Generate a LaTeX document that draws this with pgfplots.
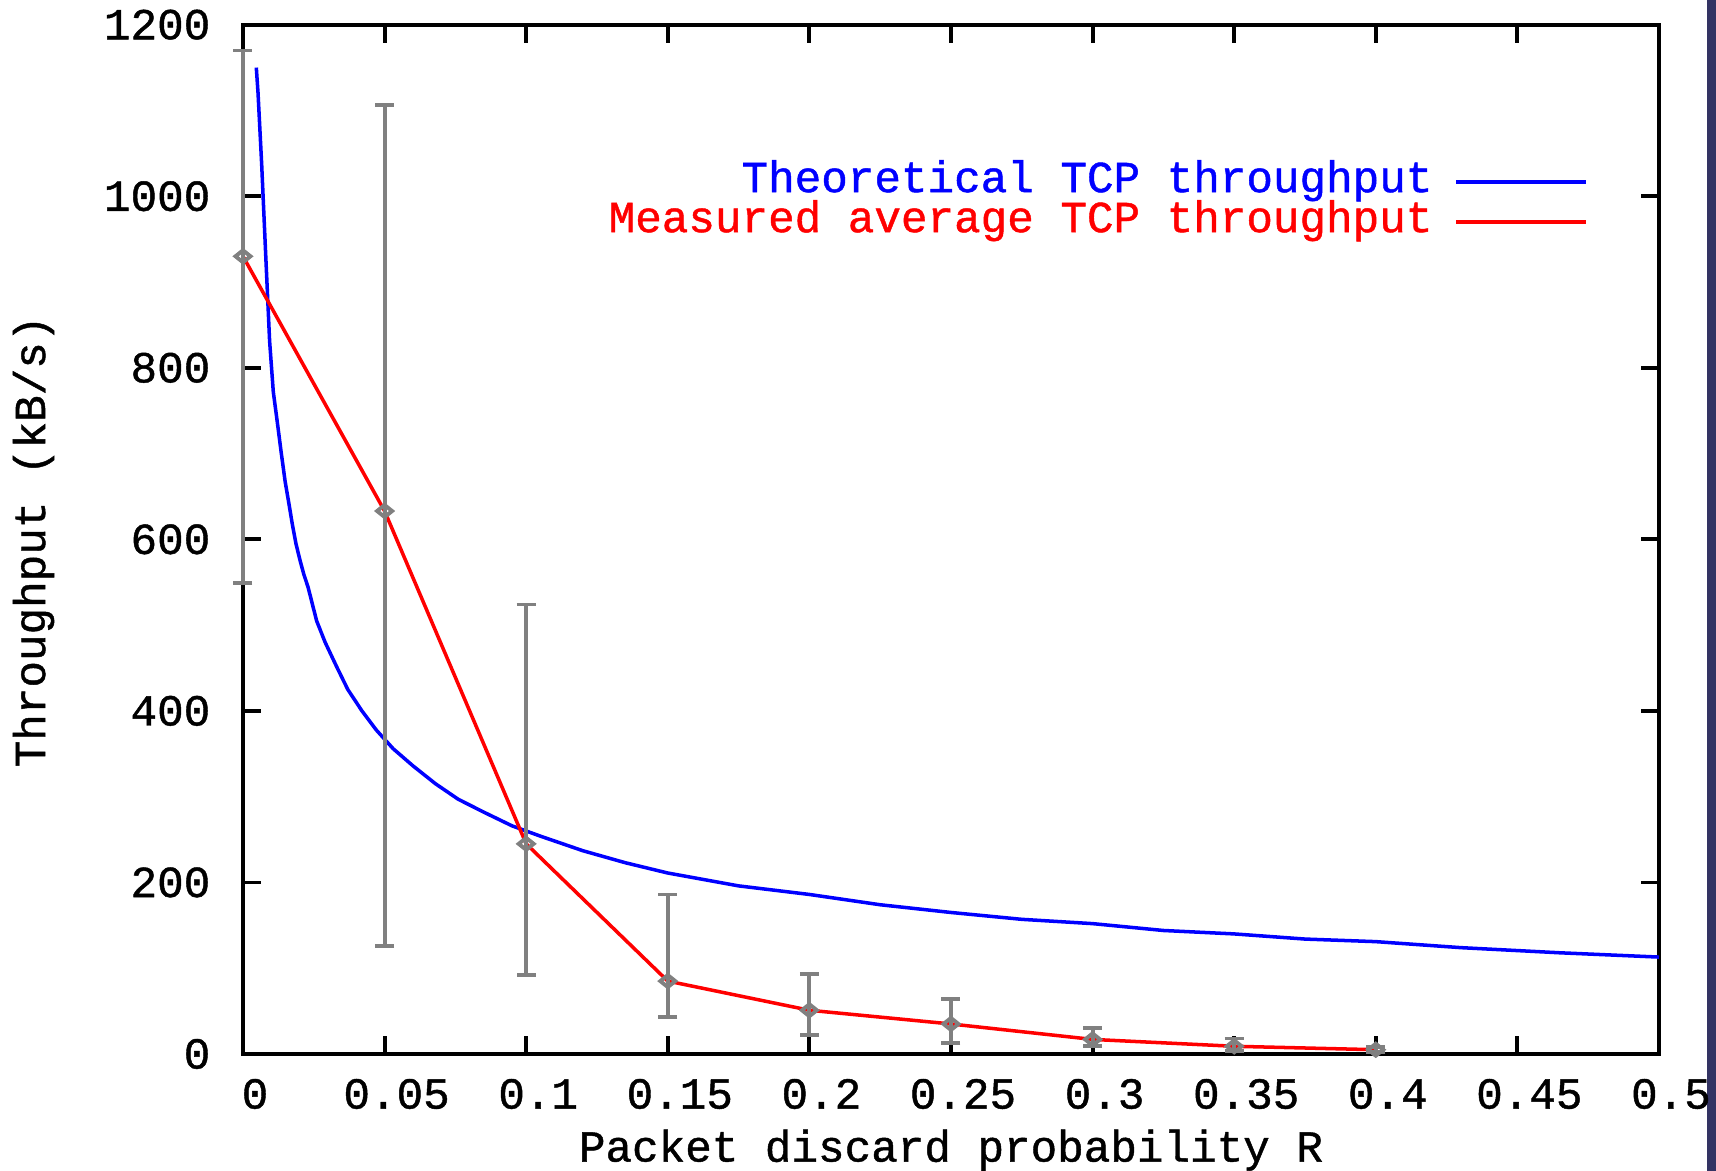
\documentclass[border=0pt]{standalone}
\usepackage{fontspec}
\setmainfont[FakeBold=1]{Liberation Mono}
\usepackage{pgfplots}
\usepackage{pgfplotstable}
\pgfplotsset{compat=1.18}
\definecolor{gpgray}{RGB}{128,128,128}
\definecolor{darkbar}{RGB}{51,51,99}

\pgfplotstableread{
x y
0.0047 1150
0.0053 1121
0.0066 1037
0.0080 933
0.0094 831
0.0107 772
0.0121 737
0.0135 701
0.0149 667
0.0162 642
0.0174 618
0.0187 595
0.0201 576
0.0215 559
0.0230 544
0.0260 505
0.0290 480
0.0330 452
0.0370 425
0.0420 400
0.0470 378
0.0530 356
0.0600 336
0.0680 315
0.0760 297
0.0850 282
0.0950 266
0.1050 254
0.1200 237
0.1350 223
0.1500 211
0.1750 196
0.2000 186
0.2250 174
0.2500 165
0.2750 157
0.3000 152
0.3250 144
0.3500 140
0.3750 134
0.4000 131
0.4300 124
0.4650 118
0.5000 113
}\theory

\pgfplotstableread{
x y ep em
0 930 240 381
0.05 633 473 507
0.1 245 279 153
0.15 85 101 42
0.2 51 42 29
0.25 35 29 22
0.3 17 13 8
0.35 9 9 5
0.4 5 3 3
}\measured

\begin{document}
\begin{tikzpicture}[font=\fontsize{12.6}{15}\selectfont]
\path[use as bounding box] (0,0) rectangle (17.16cm,11.71cm);
\fill[darkbar] (17.073cm,0) rectangle (17.16cm,11.71cm);
\begin{axis}[
  at={(2.43cm,1.17cm)}, anchor=south west,
  scale only axis, width=14.16cm, height=10.293cm,
  xmin=0, xmax=0.5, ymin=0, ymax=1200,
  clip=false,
  xtick={0,0.05,0.1,0.15,0.2,0.25,0.3,0.35,0.4,0.45,0.5},
  xticklabels={0,0.05,0.1,0.15,0.2,0.25,0.3,0.35,0.4,0.45,0.5},
  ytick={0,200,400,600,800,1000,1200},
  yticklabels={0,200,400,600,800,1000,1200},
  tick align=inside,
  major tick length=0.18cm,
  axis line style={line width=1.1pt},
  every tick/.style={black, line width=1.1pt},
  xticklabel style={anchor=center, yshift=-0.40cm, xshift=0.12cm, inner sep=0pt},
  yticklabel style={anchor=east, xshift=-0.32cm, inner sep=0pt},
  xlabel={Packet discard probability R},
  ylabel={Throughput (kB/s)},
  every axis x label/.style={at={(axis description cs:0.5,-0.1045)}, anchor=base},
  every axis y label/.style={at={(axis description cs:-0.1398,0.498)}, anchor=base, rotate=90},
  legend style={at={(axis description cs:0.9499,0.8665)}, anchor=north east, draw=none, fill=none, inner sep=0pt, outer sep=0pt, column sep=0.22cm, row sep=0pt, nodes={inner sep=0pt, text height=0.30cm, text depth=0.10cm}},
  legend cell align=right,
  legend plot pos=right,
  legend image code/.code={\draw[#1] (0cm,0cm) -- (1.30cm,0cm);},
]
\addplot[blue, line width=1pt] table[x=x, y=y] {\theory};
\addlegendentry{\textcolor{blue}{Theoretical TCP throughput}}
\addplot[red, line width=1pt] table[x=x, y=y] {\measured};
\addlegendentry{\textcolor{red}{Measured average TCP throughput}}
\addplot[gpgray, line width=1.1pt, only marks, mark=diamond, mark size=0.1cm, mark options={solid, yscale=0.6}, forget plot,
  error bars/.cd, y dir=both, y explicit,
  error bar style={gpgray, line width=1.1pt},
  error mark options={gpgray, line width=1.1pt, mark size=0.095cm, rotate=90}]
  table[x=x, y=y, y error plus=ep, y error minus=em] {\measured};
\end{axis}
\end{tikzpicture}
\end{document}
